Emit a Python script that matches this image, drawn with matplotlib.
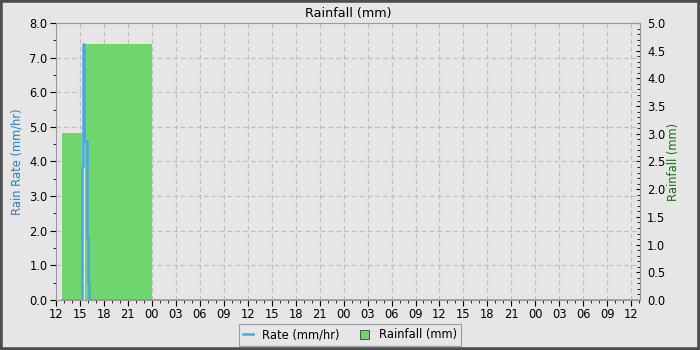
import matplotlib
matplotlib.use("Agg")
import matplotlib.pyplot as plt
from matplotlib.lines import Line2D
from matplotlib.patches import Patch, Rectangle
from matplotlib.ticker import MultipleLocator, FuncFormatter

# horas desde las 12:00 del primer dia
RATE_T = [0.75, 3.25, 3.33, 3.42, 3.55, 3.83, 3.96, 4.12, 73.1]
RATE_V = [0.0, 3.85, 5.7, 7.4, 4.58, 1.83, 0.49, 0.0, 0.0]

BAR_START = [0.75, 3.65]
BAR_END = [3.25, 12.0]
BAR_MM = [3.02, 4.62]

RATE_MAX = 8.0
RAIN_MAX = 5.0
X_MAX = 73.1
START_HOUR = 12

BG = "#e6e6e6"
GREEN = "#6fd66f"
BLUE = "#4ca6dc"
FS = 8.3


def a_mm(r):
    return r * RAIN_MAX / RATE_MAX


def a_rate(m):
    return m * RATE_MAX / RAIN_MAX


plt.rcParams.update({"font.family": "DejaVu Sans", "font.size": FS})

fig = plt.figure(figsize=(7, 3.5), dpi=100, facecolor=BG)
ax = fig.add_axes([56 / 700, 50 / 350, 584 / 700, 277 / 350], facecolor=BG)

ax.bar(BAR_START, [a_rate(m) for m in BAR_MM],
       width=[e - s for s, e in zip(BAR_START, BAR_END)],
       align="edge", color=GREEN, linewidth=0, zorder=2)
ax.step(RATE_T, RATE_V, where="post", color=BLUE, lw=1.8, zorder=3)

ax.set_xlim(0, X_MAX)
ax.set_ylim(0, RATE_MAX)
ax.xaxis.set_major_locator(MultipleLocator(3))
ax.xaxis.set_minor_locator(MultipleLocator(1))
ax.xaxis.set_major_formatter(FuncFormatter(lambda t, p: f"{int(round(t + START_HOUR)) % 24:02d}"))
ax.yaxis.set_major_locator(MultipleLocator(1))
ax.yaxis.set_minor_locator(MultipleLocator(0.5))
ax.yaxis.set_major_formatter(FuncFormatter(lambda v, p: f"{v:.1f}"))
ax.set_axisbelow(True)
ax.grid(True, which="major", color="#bdbdbd", ls=(0, (4, 3)), lw=0.8)

for s in ax.spines.values():
    s.set_color("#9a9a9a")
ax.tick_params(which="both", direction="out", colors="black", labelsize=FS, pad=2)
ax.tick_params(which="major", length=4)
ax.tick_params(which="minor", length=2.5)

sec = ax.secondary_yaxis("right", functions=(a_mm, a_rate))
sec.yaxis.set_major_locator(MultipleLocator(0.5))
sec.yaxis.set_minor_locator(MultipleLocator(0.1))
sec.yaxis.set_major_formatter(FuncFormatter(lambda v, p: f"{v:.1f}"))
sec.spines["right"].set_color("#9a9a9a")
sec.tick_params(which="both", direction="in", labelsize=FS, pad=5)
sec.tick_params(which="major", length=3)
sec.tick_params(which="minor", length=2.5)

ax.set_ylabel("Rain Rate (mm/hr)", color="#2f7fb5", fontsize=FS, labelpad=4)
sec.set_ylabel("Rainfall (mm)", color="#1d6b1d", fontsize=FS, labelpad=1)
ax.set_title("Rainfall (mm)", fontsize=9.2, pad=4)

handles = [Line2D([0], [0], color=BLUE, lw=1.8),
           Patch(facecolor=GREEN, edgecolor="#3a3a3a", lw=0.6)]
leg = fig.legend(handles, ["Rate (mm/hr)", "Rainfall (mm)"], loc="lower center",
                 bbox_to_anchor=(0.5, -0.005), ncol=2, fontsize=FS, frameon=True,
                 fancybox=False, handlelength=0.8, handleheight=0.8,
                 columnspacing=1.8, borderpad=0.4)
leg.get_frame().set_facecolor(BG)
leg.get_frame().set_edgecolor("#8a8a8a")
leg.get_frame().set_linewidth(0.8)

fig.patches.append(Rectangle((0, 0), 1, 1, transform=fig.transFigure, fill=False,
                             edgecolor="#4d4d4d", lw=4, zorder=10))

fig.savefig("out.png", dpi=100, facecolor=BG)
